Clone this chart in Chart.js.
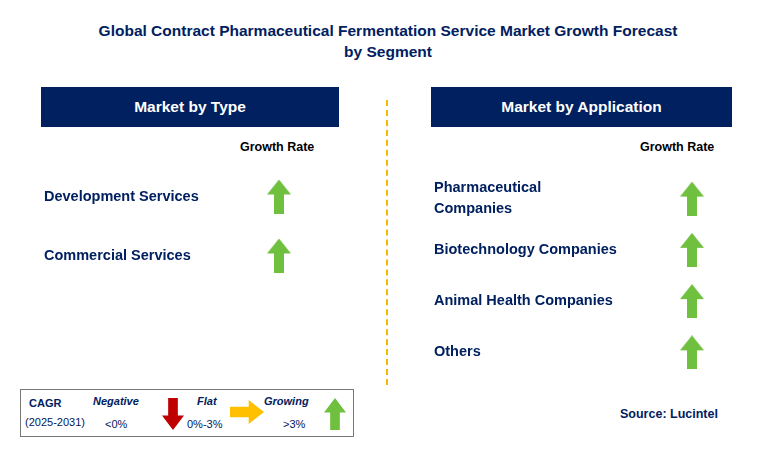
<!DOCTYPE html>
<html><head><meta charset="utf-8">
<script src="https://cdn.jsdelivr.net/npm/chart.js@4"></script>
<style>
body{margin:0;width:759px;height:463px;background:#fff;font-family:Arial,"Liberation Sans",sans-serif;position:relative;overflow:hidden}
.a{position:absolute}
.title{left:0;width:776px;top:20px;text-align:center;color:#002060;font-weight:bold;font-size:15.5px;line-height:21px}
.hdr{background:#002060;color:#fff;font-weight:bold;font-size:15.5px;text-align:center;line-height:40px;height:40px;top:87px}
.gr{font-weight:bold;font-size:12.5px;color:#000;top:140px}
.dash{left:386px;top:100px;height:285px;border-left:2px dashed #f5b800}
.legend{left:20px;top:389px;width:332px;height:46px;border:1px solid #777}
.legend span{position:absolute;font-size:11px}
.src{left:620px;top:407px;font-weight:bold;font-size:12.5px;color:#002060}
.arr{position:absolute;clip-path:polygon(50% 0,100% 45%,72% 45%,72% 100%,28% 100%,28% 45%,0 45%)}
</style></head><body>
<div class="a title">Global Contract Pharmaceutical Fermentation Service Market Growth Forecast<br>by Segment</div>
<div class="a hdr" style="left:41px;width:298px">Market by Type</div>
<div class="a hdr" style="left:431px;width:301px">Market by Application</div>
<div class="a gr" style="left:240px">Growth Rate</div>
<div class="a gr" style="left:640px">Growth Rate</div>
<div class="a dash"></div>
<div class="a" style="left:44px;top:149px;width:296px;height:154px"><canvas id="left"></canvas></div>
<div class="a" style="left:434px;top:155px;width:300px;height:244px"><canvas id="right"></canvas></div>
<div class="a legend">
  <span style="left:8px;top:7px;font-weight:bold;color:#002060">CAGR</span>
  <span style="left:4px;top:26px;color:#002060">(2025-2031)</span>
  <span style="left:72px;top:5px;font-weight:bold;font-style:italic;color:#002060">Negative</span>
  <span style="left:84px;top:28px;color:#002060">&lt;0%</span>
  <div class="arr" style="left:141px;top:8px;width:22px;height:32px;background:#c00000;transform:rotate(180deg)"></div>
  <span style="left:176px;top:5px;font-weight:bold;font-style:italic;color:#002060">Flat</span>
  <span style="left:166px;top:28px;color:#002060">0%-3%</span>
  <div class="arr" style="left:214px;top:5px;width:24px;height:34px;background:#ffc000;transform:rotate(90deg)"></div>
  <span style="left:243px;top:5px;font-weight:bold;font-style:italic;color:#002060">Growing</span>
  <span style="left:262px;top:28px;color:#002060">&gt;3%</span>
  <div class="arr" style="left:303px;top:8px;width:22px;height:32px;background:#70c040"></div>
</div>
<div class="a src">Source: Lucintel</div>
<script>
const typeSegments = ['Development Services', 'Commercial Services'];
const typeGrowth = ['Growing', 'Growing'];
const appSegments = [['Pharmaceutical', 'Companies'], 'Biotechnology Companies', 'Animal Health Companies', 'Others'];
const appGrowth = ['Growing', 'Growing', 'Growing', 'Growing'];

function arrowIcon(color) {
    const c = document.createElement('canvas');
    c.width = 24; c.height = 34;
    const g = c.getContext('2d');
    g.fillStyle = color;
    g.beginPath();
    g.moveTo(12, 0); g.lineTo(24, 15); g.lineTo(17, 15); g.lineTo(17, 34);
    g.lineTo(7, 34); g.lineTo(7, 15); g.lineTo(0, 15); g.closePath();
    g.fill();
    return c;
}
const icons = { Growing: arrowIcon('#70c040') };

function panel(id, labels, growth, axisWidth) {
    new Chart(document.getElementById(id), {
        type: 'scatter',
        data: {
            datasets: [{
                data: labels.map((l, i) => ({ x: 0.5, y: i })),
                pointStyle: growth.map(g => icons[g]),
                pointRadius: 17
            }]
        },
        options: {
            responsive: true, maintainAspectRatio: false, animation: false,
            layout: { padding: 0 },
            plugins: { legend: { display: false }, tooltip: { enabled: false } },
            scales: {
                x: { min: 0, max: 1, display: false },
                y: {
                    type: 'linear', min: -0.5, max: labels.length - 0.5, reverse: true,
                    grid: { display: false }, border: { display: false },
                    afterFit(s) { s.width = axisWidth; },
                    afterBuildTicks(s) { s.ticks = labels.map((l, i) => ({ value: i })); },
                    ticks: {
                        crossAlign: 'far', padding: 0, color: '#002060',
                        font: { family: 'Arial', size: 14.5, weight: 'bold', lineHeight: 1.45 },
                        callback: (v) => labels[v]
                    }
                }
            }
        }
    });
}
panel('left', typeSegments, typeGrowth, 192);
panel('right', appSegments, appGrowth, 234);
</script>
</body></html>
